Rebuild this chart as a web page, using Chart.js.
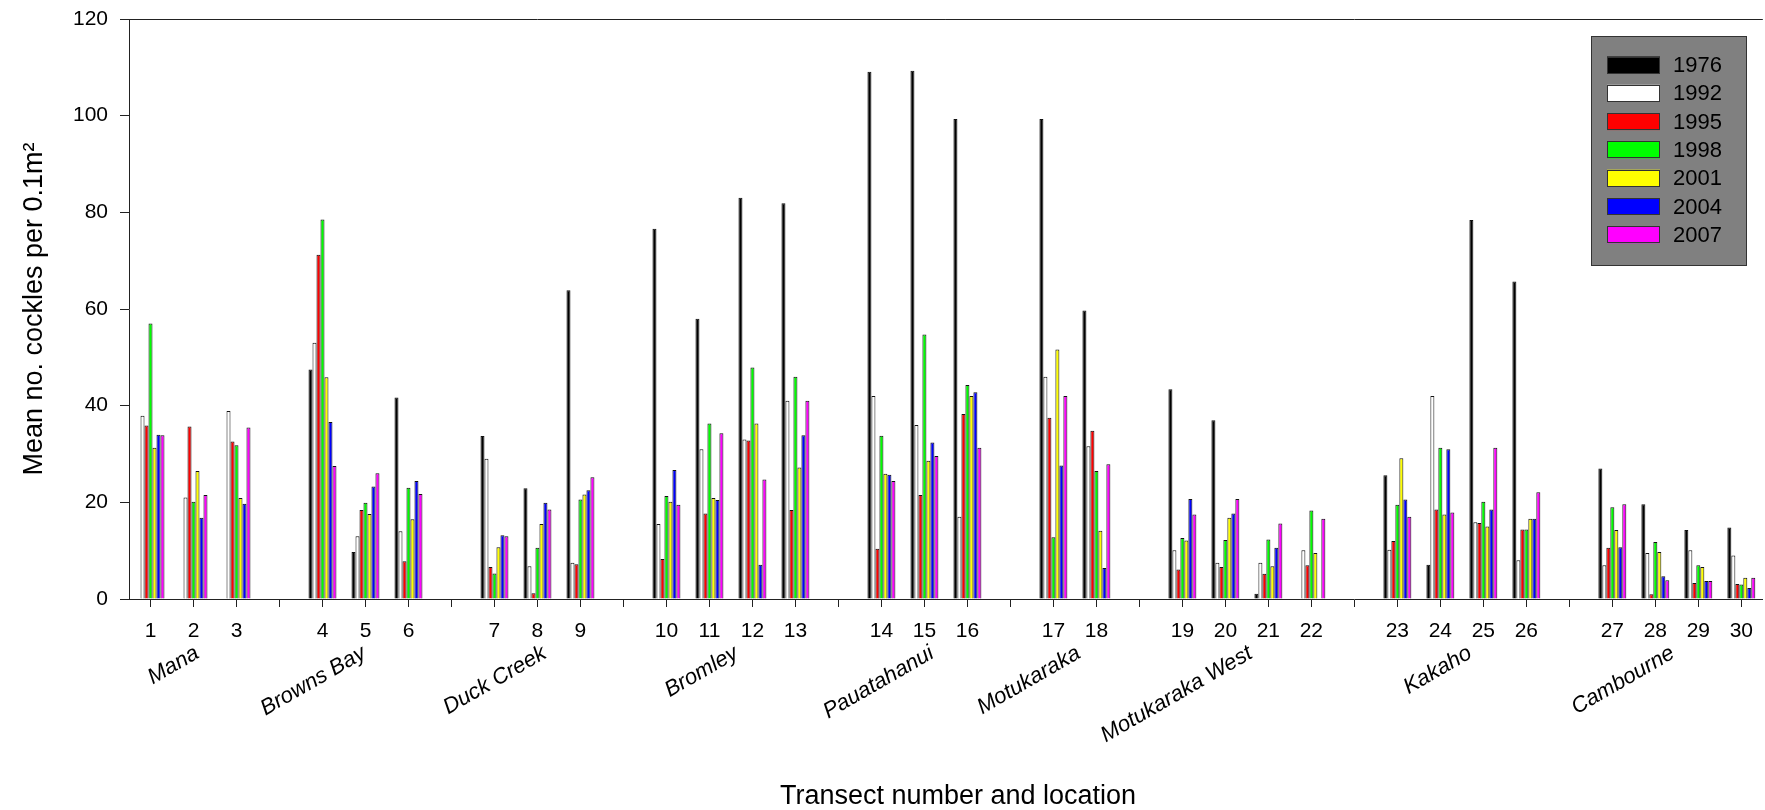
<!DOCTYPE html>
<html>
<head>
<meta charset="utf-8">
<title>Mean no. cockles per transect</title>
<script src="https://cdn.jsdelivr.net/npm/chart.js@4/dist/chart.umd.min.js"></script>
<style>
  body { margin: 0; background: #fff; }
  #wrap { width: 1765px; height: 810px; }
</style>
</head>
<body>
<div id="wrap"><canvas id="grafica" width="1765" height="810"></canvas></div>
<script>
// transects and the locations they belong to
const transects = ["1","2","3","4","5","6","7","8","9","10","11","12","13","14","15","16","17","18","19","20","21","22","23","24","25","26","27","28","29","30"];
const locations = ["Mana","Browns Bay","Duck Creek","Bromley","Pauatahanui","Motukaraka","Motukaraka West","Kakaho","Cambourne"];
const groupSizes = [3, 3, 3, 4, 3, 2, 4, 4, 4];

const years = ["1976","1992","1995","1998","2001","2004","2007"];
const yTicks = [0, 20, 40, 60, 80, 100, 120];

// mean number of cockles per 0.1 m2, one value per transect (null = no bar)
const v1976 = [null,null,null,47.5,9.7,41.7,33.7,22.9,63.9,76.6,58.0,83.0,81.9,109.1,109.3,99.3,99.3,59.7,43.4,37.0,1.1,null,25.6,7.1,78.4,65.7,27.0,19.6,14.3,14.8];
const v1992 = [37.9,21.0,38.9,53.0,13.0,14.0,29.0,6.8,7.5,15.5,31.0,33.0,41.0,42.0,36.0,17.0,46.0,31.6,10.1,7.5,7.5,10.1,10.2,42.0,15.9,8.0,7.0,9.5,10.1,9.0];
const v1995 = [35.9,35.7,32.6,71.2,18.4,7.8,6.6,1.2,7.2,8.3,17.7,32.8,18.4,10.4,21.5,38.3,37.5,34.8,6.1,6.6,5.2,7.0,12.0,18.5,15.7,14.4,10.6,1.0,3.3,3.1];
const v1998 = [57.0,20.1,31.8,78.5,19.9,23.0,5.3,10.6,20.6,21.3,36.3,47.9,46.0,33.8,54.7,44.3,12.8,26.5,12.6,12.2,12.3,18.3,19.5,31.3,20.1,14.4,19.0,11.8,7.0,3.0];
const v2001 = [31.3,26.5,20.9,45.9,17.6,16.5,10.7,15.5,21.6,20.1,20.9,36.3,27.2,25.9,28.6,42.0,51.6,14.1,12.1,16.8,6.8,9.5,29.1,17.5,15.0,16.6,14.3,9.7,6.6,4.4];
const v2004 = [34.0,16.8,19.7,36.6,23.3,24.4,13.2,19.9,22.5,26.7,20.5,7.1,33.9,25.7,32.4,42.8,27.6,6.4,20.7,17.7,10.6,null,20.6,31.0,18.5,16.6,10.7,4.7,3.7,2.3];
const v2007 = [33.9,21.5,35.5,27.5,26.0,21.7,13.0,18.5,25.2,19.5,34.3,24.7,41.0,24.4,29.6,31.3,42.0,27.9,17.5,20.7,15.6,16.6,17.0,17.9,31.3,22.1,19.6,3.9,3.7,4.4];

const series = [v1976, v1992, v1995, v1998, v2001, v2004, v2007];
const colores = ["#000000","#ffffff","#ff0000","#00ff00","#ffff00","#0000ff","#ff00ff"];

// where the end of each rotated location name sits (in category slots)
const locAnchor = [1.16, 5.04, 9.24, 13.7, 18.25, 21.66, 25.66, 30.76, 35.48];

const FUENTE = "'Liberation Sans', Arial, sans-serif";

// build the category slots: one empty slot between each location
let labels = [];
let slot = [];
let t = 0;
groupSizes.forEach((n, g) => {
  if (g > 0) { labels.push(""); slot.push(-1); }
  for (let k = 0; k < n; k++) {
    labels.push(transects[t]);
    slot.push(t);
    t++;
  }
});
const spread = (vals) => slot.map((i) => (i < 0 ? null : vals[i]));

const datasets = years.map((y, k) => ({
  label: y,
  data: spread(series[k]),
  backgroundColor: colores[k],
  borderColor: "#111",
  borderWidth: 1,
  categoryPercentage: 0.65,
  barPercentage: 1,
}));

// top frame line, location names, x title and the grey legend box
const extras = {
  id: "extras",
  afterDraw(chart) {
    const ctx = chart.ctx;
    const area = chart.chartArea;
    const xs = chart.scales.x;

    ctx.save();
    ctx.strokeStyle = "#222";
    ctx.lineWidth = 1;
    ctx.beginPath();
    ctx.moveTo(area.left, Math.round(area.top) + 0.5);
    ctx.lineTo(area.right, Math.round(area.top) + 0.5);
    ctx.stroke();

    // location names, italic and rotated
    const x0 = xs.getPixelForValue(0);
    const paso = xs.getPixelForValue(1) - x0;
    ctx.fillStyle = "#000";
    ctx.font = "italic 22px " + FUENTE;
    ctx.textAlign = "right";
    ctx.textBaseline = "alphabetic";
    locations.forEach((nombre, i) => {
      ctx.save();
      ctx.translate(x0 + locAnchor[i] * paso, area.bottom + 58);
      ctx.rotate(-Math.PI / 6);
      ctx.fillText(nombre, 0, 0);
      ctx.restore();
    });

    // axis title, a bit right of the plot centre like the original
    ctx.font = "27px " + FUENTE;
    ctx.textAlign = "center";
    ctx.textBaseline = "middle";
    ctx.fillText("Transect number and location", 958, 797);

    // legend
    const lx = 1591, ly = 36, lw = 156, lh = 230;
    ctx.fillStyle = "#808080";
    ctx.fillRect(lx, ly, lw, lh);
    ctx.strokeStyle = "#333";
    ctx.strokeRect(lx + 0.5, ly + 0.5, lw - 1, lh - 1);
    ctx.font = "22px " + FUENTE;
    ctx.textAlign = "left";
    ctx.textBaseline = "middle";
    chart.data.datasets.forEach((ds, i) => {
      const cy = 65 + i * 28.3;
      ctx.fillStyle = ds.backgroundColor;
      ctx.fillRect(1607, cy - 8.5, 53, 17);
      ctx.strokeStyle = "#333";
      ctx.strokeRect(1607.5, Math.round(cy - 8.5) + 0.5, 52, 16);
      ctx.fillStyle = "#000";
      ctx.fillText(ds.label, 1673, cy + 1);
    });
    ctx.restore();
  },
};

Chart.defaults.font.family = FUENTE;
Chart.defaults.color = "#000";

new Chart(document.getElementById("grafica"), {
  type: "bar",
  data: { labels: labels, datasets: datasets },
  plugins: [extras],
  options: {
    responsive: false,
    animation: false,
    layout: { padding: { top: 19, right: 0, bottom: 0, left: 0 } },
    plugins: { legend: { display: false }, tooltip: { enabled: false } },
    scales: {
      x: {
        offset: true,
        grid: { offset: false, drawOnChartArea: false, drawTicks: true, tickLength: 8, color: "#222" },
        border: { display: true, color: "#222", width: 1 },
        ticks: { autoSkip: false, maxRotation: 0, font: { size: 21 }, padding: 12 },
        afterFit: (s) => { s.height = 211; },
      },
      y: {
        min: 0,
        max: 120,
        afterBuildTicks: (s) => { s.ticks = yTicks.map((v) => ({ value: v })); },
        grid: { drawOnChartArea: false, drawTicks: true, tickLength: 9, color: "#222" },
        border: { display: true, color: "#222", width: 1 },
        ticks: { font: { size: 21, lineHeight: 0.8 }, padding: 12 },
        title: {
          display: true,
          text: "Mean no. cockles per 0.1m²",
          font: { size: 27, lineHeight: 1.2 },
          padding: { top: 18, bottom: 0 },
        },
        afterFit: (s) => {
          s.width = 129;
          s.paddingTop = 0;
          s.paddingBottom = 0;
        },
      },
    },
  },
});
</script>
</body>
</html>
